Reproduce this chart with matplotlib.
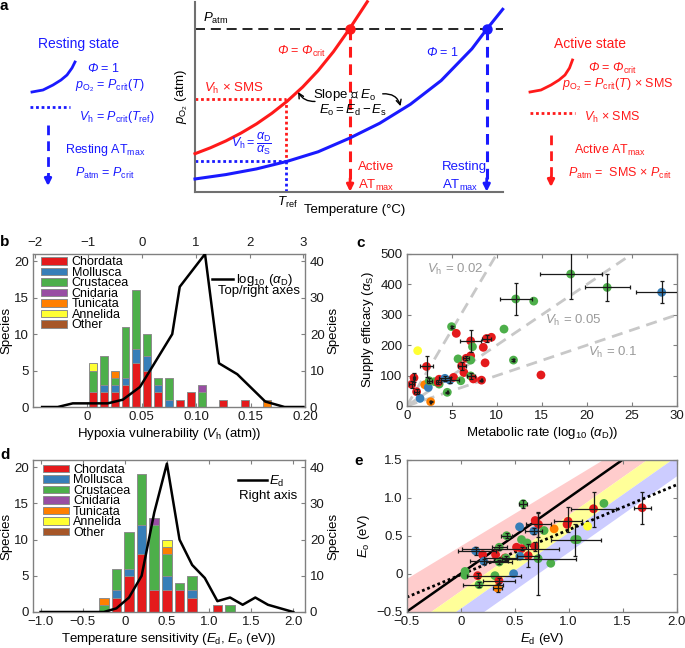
import numpy as np
import matplotlib
matplotlib.use('Agg')
import matplotlib.pyplot as plt
from matplotlib.patches import Patch
from matplotlib.lines import Line2D

plt.rcParams['font.family'] = ['Liberation Sans', 'DejaVu Sans']
plt.rcParams['mathtext.fontset'] = 'custom'
plt.rcParams['mathtext.rm'] = 'Liberation Sans'
plt.rcParams['mathtext.it'] = 'Liberation Sans:italic'
plt.rcParams['mathtext.bf'] = 'Liberation Sans:bold'
plt.rcParams['mathtext.sf'] = 'Liberation Sans:italic'   # used for italic capital Phi
plt.rcParams['font.size'] = 9

W, H = 685, 648

# ---------------- data ----------------
phyla = ['Chordata', 'Mollusca', 'Crustacea', 'Cnidaria', 'Tunicata', 'Annelida', 'Other']
phylum_colors = ['#e41a1c', '#377eb8', '#4daf4a', '#984ea3', '#ff7f00', '#ffff33', '#a65628']

# panel a: schematic Pcrit(T) curves (fraction of axes)
a_temp_active = [0, 0.05, 0.10, 0.15, 0.20, 0.25, 0.30, 0.35, 0.40, 0.45, 0.50, 0.56]
a_po2_active = [0.20, 0.231, 0.267, 0.309, 0.357, 0.413, 0.477, 0.551, 0.637, 0.737, 0.852, 1.0]
a_temp_rest = [0, 0.1, 0.2, 0.3, 0.4, 0.5, 0.6, 0.7, 0.8, 0.9, 0.948, 1.0]
a_po2_rest = [0.067, 0.09, 0.12, 0.16, 0.21, 0.28, 0.36, 0.46, 0.585, 0.752, 0.855, 0.96]
a_patm = 0.855
a_tref = 0.297
a_vh_sms = 0.486
a_vh = 0.163
a_atmax_active = 0.504
a_atmax_rest = 0.948

# panel b: Vh histogram (bins of 0.01) and log10(alphaD) distribution
b_centers = [0.005, 0.015, 0.025, 0.035, 0.045, 0.055, 0.065, 0.075, 0.085,
             0.095, 0.105, 0.115, 0.125, 0.135, 0.145, 0.155, 0.165]
b_counts = {
    'Chordata':  [2, 2, 2, 3, 6, 5, 2, 0, 1, 2, 0, 0, 1, 0, 1, 0, 0],
    'Mollusca':  [0, 1, 1, 1, 2, 2, 1, 1, 0, 0, 0, 0, 0, 0, 0, 0, 0],
    'Crustacea': [3, 4, 1, 7, 8, 3, 1, 3, 0, 0, 2, 0, 0, 0, 0, 0, 0],
    'Cnidaria':  [0, 0, 0, 0, 0, 0, 0, 0, 0, 0, 1, 0, 0, 0, 0, 0, 0],
    'Tunicata':  [0, 0, 1, 0, 0, 0, 0, 0, 0, 0, 0, 0, 0, 0, 0, 0, 1],
    'Annelida':  [1, 0, 0, 0, 0, 0, 0, 0, 0, 0, 0, 0, 0, 0, 0, 0, 0],
    'Other':     [0, 0, 0, 0, 0, 0, 0, 0, 0, 0, 0, 0, 0, 0, 0, 0, 0],
}
b_logad_x = [-1.86, -1.57, -1.29, -0.64, -0.36, -0.04, 0.56, 0.70, 1.17, 1.43, 1.77, 2.29, 2.65, 3.0]
b_logad_n = [0, 0, 1, 1, 2, 5.5, 20, 33, 42, 12, 9, 1.5, 0, 0]

# panel d: Eo histogram (bins of 0.15 eV) and Ed distribution
d_centers = [-0.25, -0.10, 0.05, 0.20, 0.35, 0.50, 0.65, 0.80, 0.95, 1.10, 1.25]
d_counts = {
    'Chordata':  [0, 2, 5, 8, 3, 3, 3, 2, 0, 1, 0],
    'Mollusca':  [0, 1, 1, 4, 0, 2, 0, 1, 0, 0, 0],
    'Crustacea': [1, 3, 5, 7, 9, 3, 1, 2, 0, 0, 1],
    'Cnidaria':  [0, 0, 0, 0, 1, 0, 0, 0, 0, 0, 0],
    'Tunicata':  [1, 0, 0, 0, 0, 1, 0, 0, 0, 0, 0],
    'Annelida':  [0, 0, 0, 0, 0, 1, 0, 0, 0, 0, 0],
    'Other':     [0, 0, 0, 0, 0, 0, 0, 0, 0, 0, 0],
}
d_ed_x = [-1.0, -0.85, -0.7, -0.55, -0.4, -0.25, -0.1, 0.05, 0.2, 0.35, 0.5,
          0.65, 0.8, 0.95, 1.1, 1.25, 1.4, 1.55, 1.7, 1.85, 2.0]
d_ed_n = [0, 0, 0, 0, 0, 0, 1, 4, 10, 27.5, 41, 20, 13, 9.4, 3, 4, 2, 4, 2, 1, 0]

# panel c: alphaD vs alphaS (group index into phyla)
c_ad = [1.22, 4.98, 5.5, 7.1, 8.86, 9.4, 10.8, 7.3, 8.5, 5.7, 6.6, 7.1, 7.1, 8.7, 11.85,
        2.2, 6.1, 6.35, 14.9, 0.81, 0.55, 1.1, 2.0, 2.4, 2.5, 3.1, 3.6, 3.6, 3.5, 4.24,
        4.8, 5.2, 6.0, 7.1, 7.4, 8.3, 4.5, 1.48, 2.66, 12.1, 14.1, 18.2, 22.25, 28.3]
c_as = [182, 261, 239, 214, 222, 226, 253, 195, 193, 155, 157, 165, 151, 142, 151,
        130, 132, 110, 102, 93, 71, 47, 70, 61, 83, 80, 72, 88, 78, 91,
        85, 94, 83, 99, 89, 85, 45, 25, 14, 352, 345, 434, 390, 374]
c_grp = [5, 2, 0, 0, 0, 0, 2, 2, 0, 2, 0, 0, 2, 0, 2,
         0, 0, 0, 0, 0, 0, 0, 4, 1, 2, 2, 2, 0, 0, 1,
         1, 0, 2, 2, 0, 0, 2, 1, 4, 2, 2, 2, 2, 1]
c_xerr_lo = [0, 0.08, 0, 1.2, 0.45, 0, 0, 0, 0, 0, 0.3, 0, 0, 0, 0.05,
             0.7, 0.45, 0, 0, 0.1, 0.3, 0.3, 0, 0, 0.3, 0, 0, 0, 0.3, 0.7,
             1.0, 0, 0, 0.45, 0, 0.05, 0.05, 0, 0.05, 1.8, 0, 3.4, 2.5, 2.8]
c_xerr_hi = [0, 0.08, 0, 1.2, 0.45, 0, 0, 0, 0, 0, 0.3, 0, 0, 0, 0.05,
             0.7, 0.45, 0, 0, 0.1, 0.3, 0.3, 0, 0, 0.3, 0, 0, 0, 0.3, 0.7,
             1.0, 0, 0, 0.45, 0, 0.05, 0.05, 0, 0.05, 1.85, 0, 3.5, 2.5, 2.8]
c_yerr_lo = [0, 3, 0, 36, 10, 0, 0, 0, 0, 0, 6, 0, 0, 0, 2,
             36, 12, 0, 0, 15, 12, 8, 0, 0, 8, 0, 0, 0, 6, 8,
             10, 0, 0, 10, 0, 2, 2, 0, 2, 53, 0, 82, 45, 36]
c_yerr_hi = [0, 3, 0, 36, 10, 0, 0, 0, 0, 0, 6, 0, 0, 0, 2,
             36, 12, 0, 0, 15, 12, 8, 0, 0, 8, 0, 0, 0, 6, 8,
             10, 0, 0, 10, 0, 2, 2, 0, 2, 52, 0, 80, 43, 36]
c_vh_values = [0.02, 0.05, 0.1]
c_vh_labels = [r'$V_{\rm h}$ = 0.02', r'$V_{\rm h}$ = 0.05', r'$V_{\rm h}$ = 0.1']
c_vh_label_pos = [(2.3, 448), (15.3, 280), (20.1, 175)]

# panel e: Ed vs Eo
e_ed = [0.578, 1.326, 1.23, 1.68, 0.994, 0.985, 0.69, 0.72, 0.545, 0.677, 0.772, 0.865,
        1.175, 0.425, 0.563, 0.615, 1.055, 1.08, 0.138, 0.357, 0.517, 0.563, 0.686, 0.203,
        0.323, 0.41, 0.418, 0.625, 0.548, 0.717, 0.834, 0.215, 0.357, 0.04, 0.04, 0.157,
        0.317, 0.49, 0.354, 0.17, 0.342]
e_eo = [0.92, 0.925, 0.855, 0.868, 0.69, 0.65, 0.70, 0.648, 0.617, 0.56, 0.568, 0.59,
        0.625, 0.50, 0.449, 0.405, 0.449, 0.449, 0.30, 0.348, 0.348, 0.33, 0.36, 0.25,
        0.25, 0.207, 0.207, 0.238, 0.23, 0.198, 0.137, 0.163, 0.154, 0.03, -0.02, -0.026,
        -0.026, 0.0, -0.09, -0.145, -0.19]
e_grp = [2, 2, 0, 0, 0, 0, 0, 0, 1, 1, 2, 4,
         5, 2, 2, 2, 2, 2, 1, 2, 0, 0, 0, 0,
         0, 0, 2, 0, 1, 2, 2, 1, 2, 2, 2, 0,
         2, 1, 0, 2, 4]
e_xerr_lo = [0.04, 0, 0.205, 0.08, 0.13, 0, 0, 0.12, 0, 0.08, 0, 0,
             0, 0.05, 0, 0, 0.215, 0, 0.16, 0.07, 0, 0.55, 0, 0,
             0, 0, 0.2, 0.1, 0, 0.33, 0, 0.13, 0.12, 0, 0, 0.1,
             0, 0, 0.145, 0.145, 0.04]
e_xerr_hi = [0.04, 0, 0.21, 0.08, 0.13, 0, 0, 0.12, 0, 0.08, 0, 0,
             0, 0.05, 0, 0, 0.24, 0, 0.19, 0.07, 0, 0.35, 0, 0,
             0, 0, 0.1, 0.1, 0, 0.35, 0, 0.22, 0.12, 0, 0, 0.4,
             0, 0, 0.15, 0.22, 0.04]
e_yerr_lo = [0.05, 0, 0.245, 0.22, 0.14, 0, 0, 0.17, 0, 0.04, 0, 0,
             0, 0.03, 0, 0, 0.22, 0, 0.05, 0.03, 0, 0.02, 0.06, 0,
             0, 0, 0.03, 0.15, 0, 0.484, 0, 0.03, 0.03, 0, 0, 0.03,
             0, 0, 0.03, 0.03, 0.05]
e_yerr_hi = [0.05, 0, 0.225, 0.21, 0.19, 0, 0, 0.17, 0, 0.04, 0, 0,
             0, 0.03, 0, 0, 0.20, 0, 0.05, 0.03, 0, 0.02, 0.06, 0,
             0, 0, 0.03, 0.15, 0, 0.60, 0, 0.03, 0.03, 0, 0, 0.03,
             0, 0, 0.03, 0.03, 0.05]
e_fit_x = [-0.5, 2.0]
e_fit_y = [-0.31, 1.17]
e_one_x = [-0.5, 1.5]
e_one_y = [-0.5, 1.5]
# band edges as (slope, intercept): pink top, pink/yellow, yellow/blue, blue bottom
band_edges = [(0.86, 0.37), (1.0, -0.22), (1.0, -0.45), (1.0, -0.71)]
band_colors = ['#ffcccc', '#ffff99', '#ccccff']

RED = '#ff1a1a'
BLUE = '#1a1aff'
SPINE = '#808080'
ERR = '#1a1a1a'
PHI = r'$\mathsf{\Phi}$'

fig = plt.figure(figsize=(W / 100, H / 100), dpi=100)


def rect(left, top, right, bottom):
    return [left / W, 1 - bottom / H, (right - left) / W, (bottom - top) / H]


def style_box(ax):
    for s in ax.spines.values():
        s.set_color(SPINE)
        s.set_linewidth(1.0)
    ax.tick_params(direction='in', length=3, color=SPINE, labelsize=9.5,
                   labelcolor='#1a1a1a', pad=3)


def stacked(ax, centers, counts, width):
    bottom = np.zeros(len(centers))
    for i, name in enumerate(phyla):
        vals = np.array(counts[name], dtype=float)
        m = vals > 0
        if m.any():
            ax.bar(np.array(centers)[m], vals[m], width, bottom=bottom[m],
                   color=phylum_colors[i], edgecolor='#8c8c8c', linewidth=0.7, zorder=2)
        bottom += vals


phylum_handles = [Patch(facecolor=c, edgecolor='#8c8c8c', linewidth=0.7, label=n)
                  for n, c in zip(phyla, phylum_colors)]
legend_kw = dict(frameon=False, fontsize=9, labelspacing=-0.12, handlelength=2.1,
                 handleheight=0.55, handletextpad=0.35, borderpad=0, borderaxespad=0)

# ---------------- panel a ----------------
axa = fig.add_axes(rect(195, 1.7, 502.7, 191.7))
axa.set_xlim(0, 1)
axa.set_ylim(0, 1)
axa.spines['top'].set_visible(False)
axa.spines['right'].set_visible(False)
for s in ['left', 'bottom']:
    axa.spines[s].set_color('#707070')
    axa.spines[s].set_linewidth(1.5)
axa.set_xticks([])
axa.set_yticks([])

axa.plot([0, 1], [a_patm, a_patm], color='k', lw=1.2, ls=(0, (6, 3.5)), zorder=1)
axa.plot(a_temp_active, a_po2_active, color=RED, lw=2.2, zorder=3, clip_on=False)
axa.plot(a_temp_rest, a_po2_rest, color=BLUE, lw=2.2, zorder=3, clip_on=False)
axa.plot([0, a_tref], [a_vh_sms, a_vh_sms], color=RED, lw=2, ls=(0, (1, 1)))
axa.plot([a_tref, a_tref], [a_vh_sms, a_vh], color=RED, lw=2, ls=(0, (1, 1)))
axa.plot([0, a_tref], [a_vh, a_vh], color=BLUE, lw=2, ls=(0, (1, 1)))
axa.plot([a_tref, a_tref], [a_vh, 0], color=BLUE, lw=2, ls=(0, (1, 1)))
for xv, col in [(a_atmax_active, RED), (a_atmax_rest, BLUE)]:
    axa.plot([xv, xv], [a_patm, 0.05], color=col, lw=2.2, ls=(0, (3.5, 2.2)))
    axa.annotate('', xy=(xv, 0.0), xytext=(xv, 0.07),
                 arrowprops=dict(arrowstyle='-|>', color=col, lw=2, mutation_scale=10,
                                 shrinkA=0, shrinkB=0))
    axa.plot([xv], [a_patm], 'o', color=col, ms=6.5, zorder=4)

axa.text(0.026, 0.91, r'$P_{\rm atm}$', fontsize=9.5, va='center', ha='left')
axa.text(0.345, 0.737, PHI + r' = ' + PHI + r'$_{\rm crit}$', color=RED,
         fontsize=9, ha='center', va='center')
axa.text(0.127, 0.546, r'$V_{\rm h}$ × SMS', color=RED, fontsize=9.5, ha='center', va='center')
axa.text(0.184, 0.25, r'$V_{\rm h} = \dfrac{\alpha_{\rm D}}{\alpha_{\rm S}}$', color=BLUE,
         fontsize=9, ha='center', va='center')
axa.text(0.485, 0.509, 'Slope ∝ ' + r'$E_{\rm o}$', fontsize=9.5, ha='center', va='center')
axa.text(0.515, 0.43, r'$E_{\rm o} = E_{\rm d} - E_{\rm s}$', fontsize=9.5, ha='center',
         va='center')
axa.annotate('', xy=(0.335, 0.525), xytext=(0.39, 0.475),
             arrowprops=dict(arrowstyle='->', color='k', lw=1,
                             connectionstyle='arc3,rad=-0.3', shrinkA=0, shrinkB=0))
axa.annotate('', xy=(0.668, 0.45), xytext=(0.61, 0.515),
             arrowprops=dict(arrowstyle='->', color='k', lw=1,
                             connectionstyle='arc3,rad=-0.4', shrinkA=0, shrinkB=0))
axa.text(0.803, 0.73, PHI + ' = 1', color=BLUE, fontsize=9, ha='center', va='center')
axa.text(0.53, 0.13, 'Active', color=RED, fontsize=9.5, ha='left', va='center')
axa.text(0.53, 0.035, r'AT$_{\rm max}$', color=RED, fontsize=9.5, ha='left', va='center')
axa.text(0.802, 0.13, 'Resting', color=BLUE, fontsize=9.5, ha='left', va='center')
axa.text(0.802, 0.035, r'AT$_{\rm max}$', color=BLUE, fontsize=9.5, ha='left', va='center')
axa.text(0.30, -0.055, r'$T_{\rm ref}$', fontsize=9.5, ha='center', va='center')
axa.text(0.518, -0.098, 'Temperature (°C)', fontsize=9.5, ha='center', va='center')
axa.text(-0.042, 0.503, r'$p_{\rm O_2}$ (atm)', fontsize=9.5, ha='center', va='center',
         rotation=90)

# ---------------- panel b ----------------
axb = fig.add_axes(rect(33, 254, 305, 407))
style_box(axb)
stacked(axb, b_centers, b_counts, 0.0072)
axb.set_xlim(-0.05, 0.20)
axb.set_ylim(0, 21)
axb.set_xticks([0, 0.05, 0.10, 0.15, 0.20])
axb.set_xticklabels(['0', '0.05', '0.10', '0.15', '0.20'])
axb.set_yticks([0, 5, 10, 15, 20])
axb.tick_params(top=False, right=False)
axb.set_xlabel(r'Hypoxia vulnerability ($V_{\rm h}$ (atm))', fontsize=9.5, labelpad=2)
axb.set_ylabel('Species', fontsize=9.5, labelpad=1)
axb.legend(handles=phylum_handles, loc='upper left', bbox_to_anchor=(0.03, 0.985), **legend_kw)

axb2 = fig.add_axes(rect(33, 254, 305, 407), facecolor='none')
axb2.plot(b_logad_x, b_logad_n, color='k', lw=1.8)
axb2.set_xlim(-2.03, 3.03)
axb2.set_ylim(0, 42)
for s in axb2.spines.values():
    s.set_visible(False)
axb2.xaxis.tick_top()
axb2.yaxis.tick_right()
axb2.yaxis.set_label_position('right')
axb2.tick_params(direction='in', length=3, color=SPINE, labelsize=9.5, labelcolor='#1a1a1a')
axb2.set_xticks([-2, -1, 0, 1, 2, 3])
axb2.set_xticklabels(['\u22122', '\u22121', '0', '1', '2', '3'])
axb2.set_yticks([0, 10, 20, 30, 40])
axb2.set_ylabel('Species', fontsize=9.5, labelpad=2)
axb2.legend(handles=[Line2D([], [], color='k', lw=1.8, label=r'log$_{10}$ ($\alpha_{\rm D}$)')],
            loc='upper right', bbox_to_anchor=(0.955, 0.88), frameon=False, fontsize=9.5,
            handlelength=1.6, handletextpad=0.2, borderpad=0, borderaxespad=0)
axb2.text(0.98, 0.755, 'Top/right axes', transform=axb2.transAxes, ha='right', va='center',
          fontsize=9.5)

# ---------------- panel d ----------------
axd = fig.add_axes(rect(33, 460, 305, 612))
style_box(axd)
stacked(axd, d_centers, d_counts, 0.115)
axd.set_xlim(-1.09, 2.14)
axd.set_ylim(0, 21)
axd.set_xticks([-1.0, -0.5, 0, 0.5, 1.0, 1.5, 2.0])
axd.set_xticklabels(['\u22121.0', '\u22120.5', '0', '0.5', '1.0', '1.5', '2.0'])
axd.set_yticks([0, 5, 10, 15, 20])
axd.tick_params(top=True, right=False)
axd.set_xlabel(r'Temperature sensitivity ($E_{\rm d}$, $E_{\rm o}$ (eV))', fontsize=9.5,
               labelpad=2)
axd.set_ylabel('Species', fontsize=9.5, labelpad=1)
axd.legend(handles=phylum_handles, loc='upper left', bbox_to_anchor=(0.035, 0.975), **legend_kw)

axd2 = axd.twinx()
axd2.plot(d_ed_x, d_ed_n, color='k', lw=1.8)
axd2.set_ylim(0, 42)
axd2.set_yticks([0, 10, 20, 30, 40])
for s in axd2.spines.values():
    s.set_visible(False)
axd2.tick_params(direction='in', length=3, color=SPINE, labelsize=9.5, labelcolor='#1a1a1a')
axd2.set_ylabel('Species', fontsize=9.5, labelpad=2)
axd2.legend(handles=[Line2D([], [], color='k', lw=1.8, label=r'$E_{\rm d}$')],
            loc='upper right', bbox_to_anchor=(0.925, 0.91), frameon=False, fontsize=9.5,
            handlelength=2.2, handletextpad=0.2, borderpad=0, borderaxespad=0)
axd2.text(0.97, 0.76, 'Right axis', transform=axd2.transAxes, ha='right', va='center',
          fontsize=9.5)

# ---------------- panel c ----------------
axc = fig.add_axes(rect(406.7, 254, 677, 406))
style_box(axc)
axc.tick_params(top=True, right=True)
for vh in c_vh_values:
    axc.plot([0, 30], [0, 30 / vh], color='#c8c8c8', lw=2, ls=(0, (4, 2.5)), zorder=1)
for (tx, ty), lab in zip(c_vh_label_pos, c_vh_labels):
    axc.text(tx, ty, lab, color='#9a9a9a', fontsize=9.5, ha='left', va='center')
c_col = [phylum_colors[g] for g in c_grp]
axc.scatter(c_ad, c_as, s=40, c=c_col, edgecolors='none', zorder=2)
c_ad_a = np.array(c_ad)
c_as_a = np.array(c_as)
xlo, xhi = np.array(c_xerr_lo), np.array(c_xerr_hi)
ylo, yhi = np.array(c_yerr_lo), np.array(c_yerr_hi)
m = (xlo + xhi + ylo + yhi) > 0
axc.errorbar(c_ad_a[m], c_as_a[m], xerr=[xlo[m], xhi[m]], yerr=[ylo[m], yhi[m]],
             fmt='none', ecolor=ERR, elinewidth=0.9, capsize=1.6, capthick=0.9, zorder=3)
axc.set_xlim(0, 30)
axc.set_ylim(0, 500)
axc.set_xticks([0, 5, 10, 15, 20, 25, 30])
axc.set_yticks([0, 100, 200, 300, 400, 500])
axc.set_xlabel(r'Metabolic rate (log$_{10}$ ($\alpha_{\rm D}$))', fontsize=9.5, labelpad=2)
axc.set_ylabel(r'Supply efficacy ($\alpha_{\rm S}$)', fontsize=9.5, labelpad=3)

# ---------------- panel e ----------------
axe = fig.add_axes(rect(406.7, 459.7, 676.7, 611.7))
style_box(axe)
axe.tick_params(top=True, right=True)
bx = np.array([-1.5, 2.5])
for i, col in enumerate(band_colors):
    s1, i1 = band_edges[i]
    s2, i2 = band_edges[i + 1]
    axe.fill_between(bx, s2 * bx + i2, s1 * bx + i1, color=col, lw=0, zorder=0)
axe.plot(e_one_x, e_one_y, color='k', lw=1.8, zorder=1.5)
axe.plot(e_fit_x, e_fit_y, color='k', lw=2, ls=(0, (1, 1)), zorder=1.5)
e_col = [phylum_colors[g] for g in e_grp]
axe.scatter(e_ed, e_eo, s=40, c=e_col, edgecolors='none', zorder=2)
e_ed_a, e_eo_a = np.array(e_ed), np.array(e_eo)
xlo, xhi = np.array(e_xerr_lo), np.array(e_xerr_hi)
ylo, yhi = np.array(e_yerr_lo), np.array(e_yerr_hi)
m = (xlo + xhi + ylo + yhi) > 0
axe.errorbar(e_ed_a[m], e_eo_a[m], xerr=[xlo[m], xhi[m]], yerr=[ylo[m], yhi[m]],
             fmt='none', ecolor=ERR, elinewidth=0.9, capsize=1.6, capthick=0.9, zorder=3)
axe.set_xlim(-0.5, 2.0)
axe.set_ylim(-0.5, 1.5)
axe.set_xticks([-0.5, 0, 0.5, 1.0, 1.5, 2.0])
axe.set_xticklabels(['\u22120.5', '0', '0.5', '1.0', '1.5', '2.0'])
axe.set_yticks([-0.5, 0, 0.5, 1.0, 1.5])
axe.set_yticklabels(['\u22120.5', '0', '0.5', '1.0', '1.5'])
axe.set_xlabel(r'$E_{\rm d}$ (eV)', fontsize=9.5, labelpad=2)
axe.set_ylabel(r'$E_{\rm o}$ (eV)', fontsize=9.5, labelpad=3)

# ---------------- overlay: panel letters and panel a side keys ----------------
ov = fig.add_axes([0, 0, 1, 1], facecolor='none')
ov.set_xlim(0, W)
ov.set_ylim(H, 0)
ov.axis('off')
for letter, (lx, ly) in zip('abcde', [(0, 6), (0, 242), (356, 243), (0, 455), (354, 461)]):
    ov.text(lx, ly, letter, fontsize=11, fontweight='bold', ha='left', va='center')

key_rest_x = [32, 43, 53, 61, 67, 72, 75]
key_rest_y = [92, 90, 85, 80, 75, 68, 62]
key_act_x = [530, 541, 551, 559, 565, 569.5, 572.5]
key_act_y = [92, 90, 85, 80, 75, 68, 60]

ov.text(79, 44, 'Resting state', color=BLUE, fontsize=10, ha='center', va='center')
ov.plot(key_rest_x, key_rest_y, color=BLUE, lw=2)
ov.text(104, 68, PHI + ' = 1', color=BLUE, fontsize=9, ha='center', va='center')
ov.text(110, 86, r'$p_{\rm O_2}$ = $P_{\rm crit}$($T$)', color=BLUE, fontsize=9,
        ha='center', va='center')
ov.plot([30, 70], [107, 107], color=BLUE, lw=2, ls=(0, (1, 1)))
ov.text(117, 117, r'$V_{\rm h}$ = $P_{\rm crit}$($T_{\rm ref}$)', color=BLUE, fontsize=9,
        ha='center', va='center')
ov.plot([48, 48], [125, 178], color=BLUE, lw=2, ls=(0, (3.5, 2.2)))
ov.annotate('', xy=(48, 186), xytext=(48, 176),
            arrowprops=dict(arrowstyle='-|>', color=BLUE, lw=2, mutation_scale=10,
                            shrinkA=0, shrinkB=0))
ov.text(105, 150, r'Resting AT$_{\rm max}$', color=BLUE, fontsize=9, ha='center', va='center')
ov.text(105, 173, r'$P_{\rm atm}$ = $P_{\rm crit}$', color=BLUE, fontsize=9,
        ha='center', va='center')

ov.text(590, 44, 'Active state', color=RED, fontsize=10, ha='center', va='center')
ov.plot(key_act_x, key_act_y, color=RED, lw=2)
ov.text(612, 68, PHI + ' = ' + PHI + r'$_{\rm crit}$', color=RED, fontsize=9,
        ha='center', va='center')
ov.text(618, 85, r'$p_{\rm O_2}$ = $P_{\rm crit}$($T$) × SMS', color=RED, fontsize=9,
        ha='center', va='center')
ov.plot([530, 575], [113, 113], color=RED, lw=2, ls=(0, (1, 1)))
ov.text(612, 117, r'$V_{\rm h}$ × SMS', color=RED, fontsize=9, ha='center', va='center')
ov.plot([551, 551], [135, 178], color=RED, lw=2, ls=(0, (3.5, 2.2)))
ov.annotate('', xy=(551, 187), xytext=(551, 177),
            arrowprops=dict(arrowstyle='-|>', color=RED, lw=2, mutation_scale=10,
                            shrinkA=0, shrinkB=0))
ov.text(610, 150, r'Active AT$_{\rm max}$', color=RED, fontsize=9, ha='center', va='center')
ov.text(620, 173, r'$P_{\rm atm}$ =  SMS × $P_{\rm crit}$', color=RED, fontsize=9,
        ha='center', va='center')

fig.savefig('out.png', dpi=100)
